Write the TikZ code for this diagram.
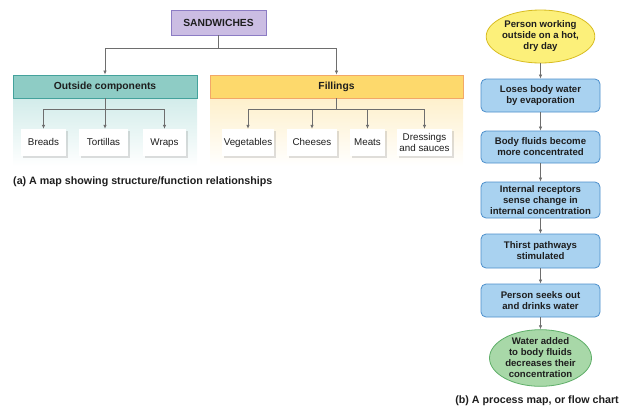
\documentclass[tikz,border=0pt]{standalone}
\usepackage{fontspec}
\setmainfont{Liberation Sans}
\usetikzlibrary{shapes.geometric,arrows.meta,shadows}
\definecolor{lav}{HTML}{CBBDE3}
\definecolor{lavb}{HTML}{8C7CC4}
\definecolor{tealh}{HTML}{8ECCC5}
\definecolor{tealb}{HTML}{44A29C}
\definecolor{tealbody}{HTML}{D2ECEA}
\definecolor{yelh}{HTML}{FDD96C}
\definecolor{yelb}{HTML}{F2A868}
\definecolor{yelbody}{HTML}{FEF0CC}
\definecolor{bluef}{HTML}{A9D2F0}
\definecolor{blueb}{HTML}{4C8FCB}
\definecolor{ovalY}{HTML}{FCF07A}
\definecolor{ovalYb}{HTML}{D8BC20}
\definecolor{ovalG}{HTML}{A8D8A8}
\definecolor{ovalGb}{HTML}{5EAE68}
\definecolor{linec}{HTML}{6E6E6E}
\definecolor{txt}{HTML}{1E1E1E}
\tikzset{
  topbox/.style={draw=lavb, fill=lav, line width=0.9pt, minimum width=95pt, minimum height=25pt, inner sep=0pt, font=\bfseries\fontsize{10.3}{12}\selectfont, text=txt},
  header/.style={line width=0.9pt, minimum height=23pt, inner sep=0pt, font=\bfseries\fontsize{10.3}{12}\selectfont, text=txt},
  itembox/.style={fill=white, drop shadow={opacity=0.25, shadow xshift=1.5pt, shadow yshift=-1.5pt}, minimum height=27pt, inner sep=0pt, align=center, font=\fontsize{9.8}{11}\selectfont, text=txt},
  oneline/.style={text height=7.2pt, text depth=2pt},
  flowbox/.style={draw=blueb, fill=bluef, line width=0.8pt, rounded corners=5pt, minimum width=119pt, inner sep=0pt, align=center, font=\bfseries\fontsize{9.6}{11}\selectfont, text=txt},
  oval/.style={ellipse, line width=0.8pt, minimum width=102pt, inner sep=0pt, align=center, font=\bfseries\fontsize{9.6}{11}\selectfont, text=txt},
  conn/.style={draw=linec, line width=0.7pt},
  arr/.style={draw=linec, line width=0.7pt, -{Latex[length=4pt,width=3.5pt]}},
  caption/.style={font=\bfseries\fontsize{10.7}{12}\selectfont, text=txt, inner sep=0pt}
}
\begin{document}
\begin{tikzpicture}[x=1pt,y=-1pt]
\useasboundingbox (0,0) rectangle (629,408);

% panels bodies
\shade[top color=tealbody, bottom color=white] (13,98) rectangle (197,166);
\shade[top color=yelbody, bottom color=white] (210,98) rectangle (463,166);

\node[topbox] (sand) at (218.5,22.5) {SANDWICHES};
\node[header, draw=tealb, fill=tealh, minimum width=184pt] (outside) at (105,86.5) {Outside components};
\node[header, draw=yelb, fill=yelh, minimum width=253pt] (fill) at (336.5,86.5) {Fillings};

\coordinate (sj) at (218.5,48);
\draw[conn] (sand.south) -- (sj);
\draw[arr] (sj) -| (outside.north);
\draw[arr] (sj) -| (fill.north);

\node[itembox, oneline, minimum width=45pt] (breads) at (43.5,142.5) {Breads};
\node[itembox, oneline, minimum width=49pt] (tort) at (103.5,142.5) {Tortillas};
\node[itembox, oneline, minimum width=43pt] (wraps) at (164.5,142.5) {Wraps};
\node[itembox, oneline, minimum width=52pt] (veg) at (248,142.5) {Vegetables};
\node[itembox, oneline, minimum width=50pt] (chee) at (312,142.5) {Cheeses};
\node[itembox, oneline, minimum width=35pt] (meat) at (367.5,142.5) {Meats};
\node[itembox, minimum width=55pt, font=\fontsize{9.8}{10.5}\selectfont] (dress) at (424.5,142.5) {Dressings\\and sauces};

\coordinate (oj) at (105,109);
\draw[conn] (outside.south) -- (oj);
\draw[arr] (oj) -| (breads.north);
\draw[arr] (oj) -- (tort.north -| oj);
\draw[arr] (oj) -| (wraps.north);

\coordinate (fj) at (336.5,109);
\draw[conn] (fill.south) -- (fj);
\draw[arr] (fj) -| (veg.north);
\draw[arr] (fj) -| (chee.north);
\draw[arr] (fj) -| (meat.north);
\draw[arr] (fj) -| (dress.north);

\node[caption, anchor=west] (capa) at (13,181.5) {(a) A map showing structure/function relationships};

% flow chart
\node[oval, draw=ovalYb, fill=ovalY, minimum height=53pt] (o1) at (540.5,36.5) {Person working\\outside on a hot,\\dry day};
\node[flowbox, minimum height=33pt] (b1) at (540.5,95.5) {Loses body water\\by evaporation};
\node[flowbox, minimum height=32pt] (b2) at (540.5,147) {Body fluids become\\more concentrated};
\node[flowbox, minimum height=36pt] (b3) at (540.5,200) {Internal receptors\\sense change in\\internal concentration};
\node[flowbox, minimum height=34pt] (b4) at (540.5,251) {Thirst pathways\\stimulated};
\node[flowbox, minimum height=33pt] (b5) at (540.5,300.5) {Person seeks out\\and drinks water};
\node[oval, draw=ovalGb, fill=ovalG, minimum height=52pt] (o2) at (540.5,358) {Water added\\to body fluids\\decreases their\\concentration};

\draw[arr] (o1) -- (b1);
\draw[arr] (b1) -- (b2);
\draw[arr] (b2) -- (b3);
\draw[arr] (b3) -- (b4);
\draw[arr] (b4) -- (b5);
\draw[arr] (b5) -- (o2);

\node[caption] (capb) at (537,400.5) {(b) A process map, or flow chart};
\end{tikzpicture}
\end{document}
